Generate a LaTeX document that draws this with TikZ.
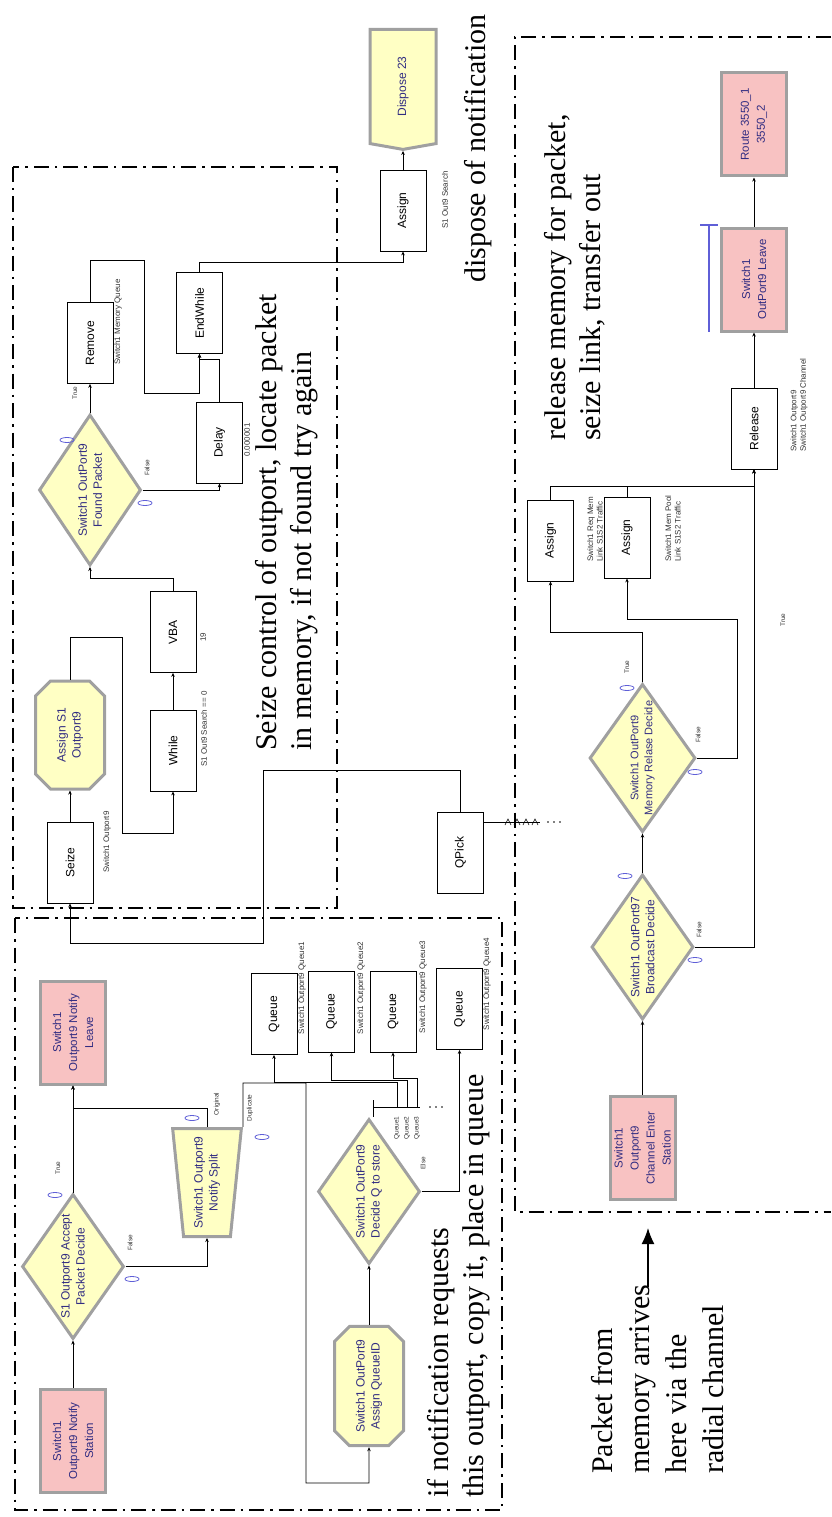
\documentclass[tikz,border=0pt]{standalone}
\usepackage{fontspec}
\setmainfont{Liberation Serif}
\setsansfont{Liberation Sans}
\usetikzlibrary{arrows.meta,shapes.geometric,shapes.misc,shapes.symbols}

\definecolor{modfill}{RGB}{255,255,196}
\definecolor{stafill}{RGB}{248,194,194}
\definecolor{modframe}{RGB}{160,160,160}
\definecolor{modtext}{RGB}{50,45,130}
\definecolor{cntblue}{RGB}{95,95,215}

\tikzset{
  box/.style={rectangle, draw, line width=0.8pt, fill=white, rotate=90,
    minimum width=81, minimum height=46, inner sep=1pt,
    font=\sffamily\fontsize{12}{14}\selectfont},
  modbase/.style={draw=modframe, line width=3pt, rotate=90, align=center,
    text=modtext, inner sep=1pt, font=\sffamily\fontsize{12}{15}\selectfont},
  station/.style={modbase, rectangle, fill=stafill, minimum width=103,
    minimum height=65, font=\sffamily\fontsize{11.5}{16}\selectfont},
  decide/.style={modbase, diamond, aspect=1.4, fill=modfill, inner sep=0pt,
    minimum width=145, minimum height=102},
  assignmod/.style={modbase, chamfered rectangle, chamfered rectangle xsep=12pt,
    fill=modfill, minimum width=108, minimum height=69},
  splitmod/.style={modbase, trapezium, shape border rotate=90,
    trapezium left angle=86, trapezium right angle=86, trapezium stretches=true,
    fill=modfill, minimum width=69, minimum height=108},
  disposemod/.style={modbase, signal, signal to=west, signal pointer angle=160,
    fill=modfill, minimum width=120, minimum height=66},
  lbl/.style={rotate=90, inner sep=0pt, align=left, text=black!80,
    font=\sffamily\fontsize{8}{9.5}\selectfont},
  tf/.style={lbl, font=\sffamily\fontsize{6.5}{7}\selectfont},
  note/.style={rotate=90, inner sep=0pt, align=left, anchor=west,
    font=\fontsize{30}{35}\selectfont},
  conn/.style={line width=0.9pt, -{Stealth[length=4pt,width=3.5pt]}},
  region/.style={line width=2.2pt, dash pattern=on 15pt off 6pt on 2.5pt off 6pt},
  cnt/.style={draw=cntblue, line width=0.8pt}
}

\begin{document}
\begin{tikzpicture}[x=1pt,y=-1pt]
  \useasboundingbox (0,0) rectangle (831,1517);

  % Cadres en tirets-points
  \draw[region] (13,167) rectangle (337,908);
  \draw[region] (15,918) rectangle (502,1510);
  \draw[region] (831,37) -- (515,37) -- (515,1212) -- (831,1212);

  % Recherche du paquet (en haut)
  \node[disposemod] (dispose) at (403,86.5) {Dispose 23};
  \node[box] (assignT) at (403,210.5) {Assign};
  \node[box] (endwhile) at (199.5,313) {EndWhile};
  \node[box] (remove) at (90,343) {Remove};
  \node[box] (delay) at (219.5,442.5) {Delay};
  \node[decide, minimum width=151] (found) at (90,490) {Switch1 OutPort9\\Found Packet};
  \node[box] (vba) at (173,632) {VBA};
  \node[box] (while) at (173,750.5) {While};
  \node[assignmod] (assignS1) at (70,735) {Assign S1\\Outport9};
  \node[box] (seize) at (70,862.5) {Seize};
  \node[box] (qpick) at (460.5,852.5) {QPick};

  % Notification
  \node[station] (notleave) at (73,1032.5) {Switch1\\Outport9 Notify\\Leave};
  \node[decide] (accept) at (73,1266.5) {S1 Outport9 Accept\\Packet Decide};
  \node[station] (notstation) at (73,1441) {Switch1\\Outport9 Notify\\Station};
  \node[splitmod] (split) at (207,1182.5) {Switch1 Outport9\\Notify Split};
  \node[box] (queue1) at (274,1014) {Queue};
  \node[box] (queue2) at (331.5,1011.5) {Queue};
  \node[box] (queue3) at (393,1011.5) {Queue};
  \node[box] (queue4) at (459.5,1009) {Queue};
  \node[decide] (decideQ) at (369,1191.5) {Switch1 OutPort9\\Decide Q to store};
  \node[assignmod] (assignQID) at (369,1386) {Switch1 OutPort9\\Assign QueueID};

  % Canal de sortie
  \node[station] (chenter) at (642.5,1148) {Switch1\\Outport9\\Channel Enter\\Station};
  \node[decide] (broadcast) at (642.5,947) {Switch1 OutPort97\\Broadcast Decide};
  \node[decide, font=\sffamily\fontsize{11}{14}\selectfont] (memrel) at (642.5,758)
    {Switch1 OutPort9\\Memory Relase Decide};
  \node[box] (assignA) at (550.5,540.5) {Assign};
  \node[box] (assignB) at (627,537.5) {Assign};
  \node[box] (release) at (754,428.5) {Release};
  \node[station] (leave) at (754,279.5) {Switch1\\OutPort9 Leave};
  \node[station] (route) at (754,124.5) {Route 3550\_1\\3550\_2};

  % Liaisons
  \draw[conn] (assignT.east) -- (dispose.west);
  \draw[conn] (endwhile.east) -- (endwhile.east |- 0,262) -| (assignT.west);
  \draw[conn] (remove.east) -- (remove.east |- 0,260) -- (144,260) -- (144,393) -| (endwhile.west);
  \draw[conn] (delay.east) -- (delay.east |- 0,359) -- (endwhile.west |- 0,359) -- (endwhile.west);
  \draw[conn] (found.east) -- (remove.west);
  \draw[conn] (found.south) -| (delay.west);
  \draw[conn] (vba.east) -- (vba.east |- 0,578) -| (found.west);
  \draw[conn] (while.east) -- (vba.west);
  \draw[conn] (assignS1.east) -- (assignS1.east |- 0,637) -- (122,637) -- (122,833) -| (while.west);
  \draw[conn] (seize.east) -- (assignS1.west);
  \draw[conn] (qpick.east) -- (qpick.east |- 0,770) -- (263,770) -- (263,943) -| (seize.west);
  \draw[line width=0.9pt] (qpick.south |- 0,822) -- (540,822);
  \foreach \x in {508,517,526,535}
    \draw[line width=0.6pt] (\x-3,825) -- (\x,819) -- (\x+3,825);
  \foreach \x in {548,554,560}
    \fill (\x,822) circle (0.9);

  \draw[conn] (notstation.east) -- (accept.west);
  \draw[conn] (accept.east) -- (notleave.west);
  \draw[conn] (accept.south) -| (split.west);
  \draw[conn] (split.east) -- (split.east |- 0,1108) -| (notleave.west);
  \draw[conn] (split.east) ++(36,0) -- ++(0,-44) -- (306,1083) -- (306,1483) -| (assignQID.west);
  \draw[conn] (assignQID.east) -- (decideQ.west);
  \draw[line width=0.9pt] (373,1100) -- (373,1117) (373,1107) -- (420,1107);
  \foreach \x in {430,436,442}
    \fill (\x,1107) circle (0.9);
  \coordinate (qout1) at (397,1107);
  \coordinate (qout2) at (407,1107);
  \coordinate (qout3) at (417,1107);
  \draw[conn] (qout1) -- (397,1082) -| (queue1.west);
  \draw[conn] (qout2) -- (407,1080) -| (queue2.west);
  \draw[conn] (qout3) -- (417,1078) -| (queue3.west);
  \draw[conn] (decideQ.south) -| (queue4.west);

  \draw[conn] (chenter.east) -- (broadcast.west);
  \draw[conn] (broadcast.east) -- (memrel.west);
  \draw[conn] (broadcast.south) -| (release.west);
  \draw[conn] (memrel.east) -- (memrel.east |- 0,632) -| (assignA.west);
  \draw[conn] (memrel.south) -- (737,758) -- (737,619) -| (assignB.west);
  \draw[conn] (assignA.east) -- (assignA.east |- 0,486) -| (release.west);
  \draw[conn] (assignB.east) -- (assignB.east |- 0,486) -| (release.west);
  \draw[conn] (release.east) -- (leave.west);
  \draw[conn] (leave.east) -- (route.west);
  \draw[cntblue, line width=1.2pt] (700,225) -- (718,225) (709,225) -- (709,332);

  % Arrivée du paquet
  \coordinate (arrive) at (648,1287);
  \coordinate (arriveEnd) at (648,1228);
  \draw[line width=1.4pt, -{Latex[length=16pt,width=13pt]}] (arrive) -- (arriveEnd);

  % Compteurs
  \foreach \p in {(67,440),(145,503),(55,1195),(132,1279),(192,1118),(262,1137),
                  (625,876),(695,960),(627,688),(695,772)}
    \draw[cnt] \p ellipse (7 and 2.5);

  % Etiquettes des modules
  \node[lbl] (lassignT) at (445,200) {S1 Out9 Search};
  \node[lbl] (lremove) at (118,322) {Switch1 Memory Queue};
  \node[lbl] (ldelay) at (247,440) {0.000001};
  \node[lbl] (lvba) at (203,637) {19};
  \node[lbl] (lwhile) at (204,729) {S1 Out9 Search == 0};
  \node[lbl] (lseize) at (107,842) {Switch1 Outport9};
  \node[lbl] (lq1) at (302,988) {Switch1 Outport9 Queue1};
  \node[lbl] (lq2) at (361,988) {Switch1 Outport9 Queue2};
  \node[lbl] (lq3) at (423,987) {Switch1 Outport9 Queue3};
  \node[lbl] (lq4) at (487,984) {Switch1 Outport9 Queue4};
  \node[lbl, anchor=west] (lassignA) at (595,562) {Switch1 Req Mem\\Link S1S2 Traffic};
  \node[lbl, anchor=west] (lassignB) at (673,562) {Switch1 Mem Pool\\Link S1S2 Traffic};
  \node[lbl, anchor=west] (lrelease) at (799,452) {Switch1 Outport9\\Switch1 Outport9 Channel};

  \node[tf] (tfound) at (75,393) {True};
  \node[tf] (ffound) at (147,468) {False};
  \node[tf] (taccept) at (58,1168) {True};
  \node[tf] (faccept) at (130,1243) {False};
  \node[tf] (tmemrel) at (627,667) {True};
  \node[tf] (fmemrel) at (698,735) {False};
  \node[tf] (tbcast) at (783,620) {True};
  \node[tf] (fbcast) at (699,930) {False};
  \node[tf] (eldec) at (423,1163) {Else};
  \node[tf] (orig) at (217,1104) {Original};
  \node[tf] (dupl) at (250,1108) {Duplicate};
  \node[tf] (lqo1) at (397,1128) {Queue1};
  \node[tf] (lqo2) at (407,1128) {Queue2};
  \node[tf] (lqo3) at (417,1128) {Queue3};

  % Commentaires
  \node[note] (ndispose) at (478,283) {dispose of notification};
  \node[note] (nrelease) at (575,441) {release memory for packet,\\seize link, transfer out};
  \node[note] (nseize) at (287,751) {Seize control of outport, locate packet\\in memory, if not found try again};
  \node[note] (nnotif) at (459,1498) {if notification requests\\this outport, copy it, place in queue};
  \node[note, font=\fontsize{30}{37}\selectfont] (npacket) at (658,1474)
    {Packet from\\memory arrives\\here via the\\radial channel};

\end{tikzpicture}
\end{document}
